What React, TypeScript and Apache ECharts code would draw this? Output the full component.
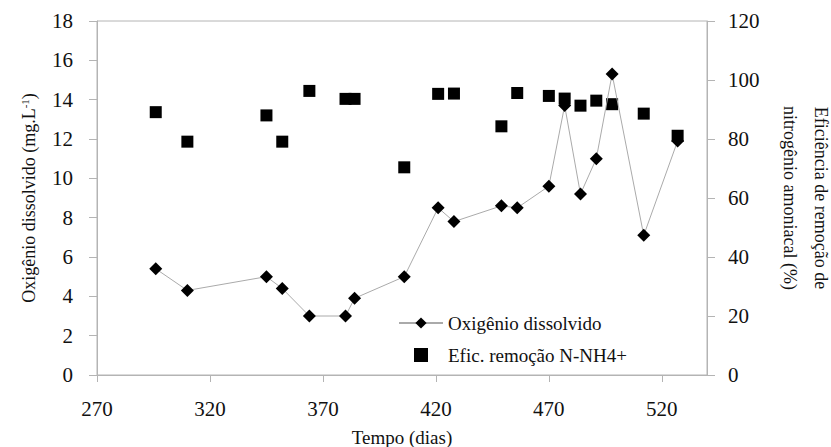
import React, { useEffect, useRef } from "react";
import * as echarts from "echarts";

// Tempo (dias)
const days = [296, 310, 345, 352, 364, 380, 384, 406, 421, 428, 449, 456, 470, 477, 484, 491, 498, 512, 527];
// Oxigênio dissolvido (mg/L)
const oxigenio = [5.4, 4.3, 5.0, 4.4, 3.0, 3.0, 3.9, 5.0, 8.5, 7.8, 8.6, 8.5, 9.6, 13.7, 9.2, 11.0, 15.3, 7.1, 11.9];
// Eficiência de remoção de N-NH4+ (%)
const eficiencia = [89.1, 79.1, 88.0, 79.1, 96.3, 93.6, 93.6, 70.4, 95.3, 95.4, 84.3, 95.6, 94.6, 93.7, 91.3, 93.0, 91.8, 88.6, 81.1];

const seriesNames = ["Oxigênio dissolvido", "Efic. remoção N-NH4+"];
const xTitle = "Tempo (dias)";
const yLeftTitle = "Oxigênio dissolvido (mg.L{sup|-1})";
const yRightTitle = "Eficiência de remoção de\nnitrogênio amoniacal (%)";

const FONT = "Liberation Serif";
const AXIS_COLOR = "#b4b4b4";
const TEXT_COLOR = "#111";

export default function App() {
  const ref = useRef<HTMLDivElement>(null);

  useEffect(() => {
    if (!ref.current) return;
    const chart = echarts.init(ref.current, undefined, { renderer: "svg" });

    const axisLine = { show: true, lineStyle: { color: AXIS_COLOR, width: 1 } };

    chart.setOption({
      animation: false,
      backgroundColor: "#fff",
      grid: {
        left: 97,
        right: 124,
        top: 21,
        bottom: 72,
        containLabel: false,
        outerBoundsMode: "none",
        show: true,
        borderColor: AXIS_COLOR,
        borderWidth: 1,
        backgroundColor: "transparent",
      },
      legend: {
        orient: "vertical",
        left: 393,
        top: 308,
        itemWidth: 44,
        itemHeight: 14,
        itemGap: 12,
        textStyle: { fontFamily: FONT, fontSize: 19, color: TEXT_COLOR, lineHeight: 20 },
        data: [
          { name: seriesNames[0] },
          { name: seriesNames[1], icon: "path://M0 0H10V10H0Z", itemStyle: { opacity: 1, color: "#000" } },
        ],
        symbolKeepAspect: true,
      },
      xAxis: {
        type: "value",
        min: 270,
        max: 540,
        interval: 50,
        axisLine,
        axisTick: { show: true, inside: false, length: 7, lineStyle: { color: AXIS_COLOR } },
        splitLine: { show: false },
        axisLabel: {
          fontFamily: FONT,
          fontSize: 21,
          color: TEXT_COLOR,
          margin: 23,
          showMaxLabel: false,
        },
        name: xTitle,
        nameLocation: "middle",
        nameGap: 53,
        nameTextStyle: { fontFamily: FONT, fontSize: 19, color: TEXT_COLOR },
      },
      yAxis: [
        {
          type: "value",
          position: "left",
          min: 0,
          max: 18,
          interval: 2,
          axisLine,
          axisTick: { show: true, inside: false, length: 8, lineStyle: { color: AXIS_COLOR } },
          splitLine: { show: false },
          axisLabel: { fontFamily: FONT, fontSize: 21, color: TEXT_COLOR, margin: 24 },
          name: yLeftTitle,
          nameLocation: "middle",
          nameGap: 58,
          nameRotate: 90,
          nameTextStyle: {
            fontFamily: FONT,
            fontSize: 18,
            color: TEXT_COLOR,
            rich: {
              sup: { fontFamily: FONT, fontSize: 11, color: TEXT_COLOR, padding: [0, 0, 9, 0] },
            },
          },
        },
        {
          type: "value",
          position: "right",
          min: 0,
          max: 120,
          interval: 20,
          axisLine,
          axisTick: { show: true, inside: false, length: 8, lineStyle: { color: AXIS_COLOR } },
          splitLine: { show: false },
          axisLabel: { fontFamily: FONT, fontSize: 21, color: TEXT_COLOR, margin: 21 },
          name: yRightTitle,
          nameLocation: "middle",
          nameGap: 67,
          nameRotate: -90,
          nameTextStyle: { fontFamily: FONT, fontSize: 18, color: TEXT_COLOR, lineHeight: 31 },
        },
      ],
      series: [
        {
          name: seriesNames[0],
          type: "line",
          yAxisIndex: 0,
          data: days.map((d, i) => [d, oxigenio[i]]),
          symbol: "diamond",
          symbolSize: 13,
          itemStyle: { color: "#000", opacity: 1 },
          lineStyle: { color: "#aaa", width: 1 },
          z: 3,
        },
        {
          name: seriesNames[1],
          type: "scatter",
          yAxisIndex: 1,
          data: days.map((d, i) => [d, eficiencia[i]]),
          symbol: "rect",
          symbolSize: 12,
          itemStyle: { color: "#000", opacity: 1 },
          z: 2,
        },
      ],
    });

    return () => chart.dispose();
  }, []);

  return (
    <div
      ref={ref}
      style={{ position: "fixed", left: 0, top: 0, width: 831, height: 447, background: "#fff" }}
    />
  );
}
